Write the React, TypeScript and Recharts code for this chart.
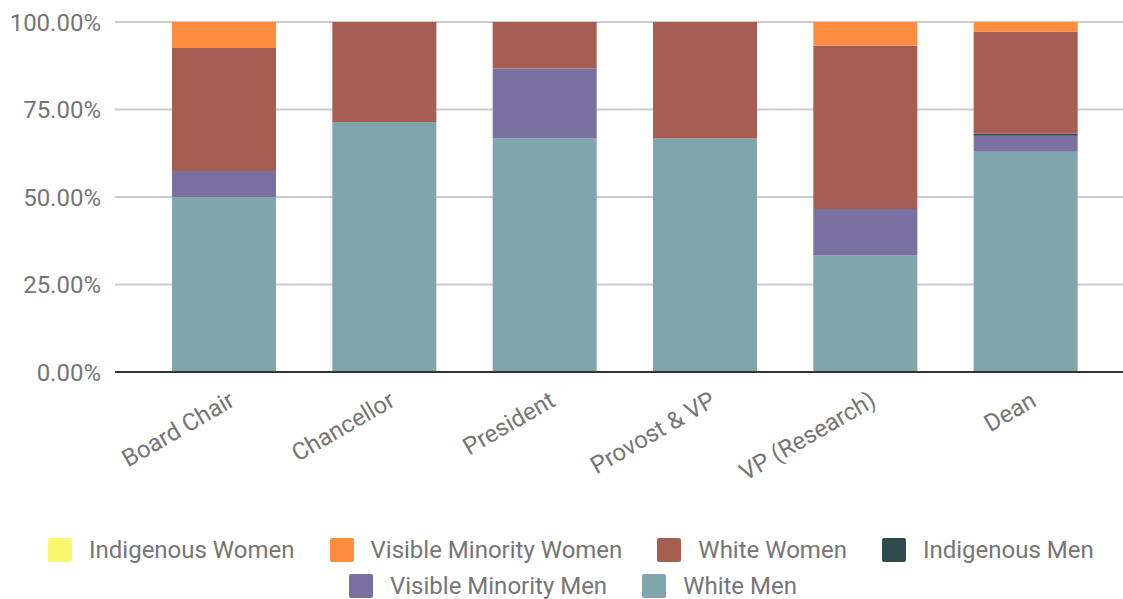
import { BarChart, Bar, XAxis, YAxis, CartesianGrid, Legend } from "recharts";

const roles = ["Board Chair", "Chancellor", "President", "Provost & VP", "VP (Research)", "Dean"];
const whiteMen = [50, 71.4, 66.7, 66.7, 33.3, 62.9];
const visibleMinorityMen = [7.4, 0, 20, 0, 13.3, 4.6];
const indigenousMen = [0, 0, 0, 0, 0, 0.6];
const whiteWomen = [35.2, 28.6, 13.3, 33.3, 46.7, 29.2];
const visibleMinorityWomen = [7.4, 0, 0, 0, 6.7, 2.7];
const indigenousWomen = [0, 0, 0, 0, 0, 0];
const yTicks = [0, 25, 50, 75, 100];

// stacked bottom -> top; legend shows them top -> bottom
const series = [
  { key: "whiteMen", name: "White Men", color: "#80A5AC" },
  { key: "visibleMinorityMen", name: "Visible Minority Men", color: "#7A71A1" },
  { key: "indigenousMen", name: "Indigenous Men", color: "#2F4A4D" },
  { key: "whiteWomen", name: "White Women", color: "#A65E52" },
  { key: "visibleMinorityWomen", name: "Visible Minority Women", color: "#FF8D3F" },
  { key: "indigenousWomen", name: "Indigenous Women", color: "#F8F76E" },
];
const legendOrder = series.map((s) => s.name).reverse();

const data = roles.map((role, i) => ({
  role,
  whiteMen: whiteMen[i],
  visibleMinorityMen: visibleMinorityMen[i],
  indigenousMen: indigenousMen[i],
  whiteWomen: whiteWomen[i],
  visibleMinorityWomen: visibleMinorityWomen[i],
  indigenousWomen: indigenousWomen[i],
}));

const FONT = "Roboto, 'Noto Sans', sans-serif";
const GREY = "#757575";

function RoleTick({ x, y, payload }: { x?: number; y?: number; payload?: { value: string } }) {
  const ax = (x ?? 0) + 12;
  const ay = (y ?? 0) + 25;
  return (
    <text x={ax} y={ay} transform={`rotate(-30, ${ax}, ${ay})`} textAnchor="end"
      fill={GREY} fontSize={24} fontFamily={FONT}>
      {payload?.value}
    </text>
  );
}

function LegendBox({ payload }: { payload?: { value: string; color: string }[] }) {
  const items = [...(payload ?? [])].sort((a, b) => legendOrder.indexOf(a.value) - legendOrder.indexOf(b.value));
  const rows = [items.slice(0, 4), items.slice(4)];
  const starts = [48, 349];
  return (
    <div style={{ height: 79, position: "relative", fontFamily: FONT }}>
      {rows.map((row, r) => (
        <div key={r} style={{ position: "absolute", left: starts[r], top: 11 + r * 36, height: 38, display: "flex", alignItems: "center", whiteSpace: "nowrap" }}>
          {row.map((it) => (
            <div key={it.value} style={{ display: "flex", alignItems: "center", marginRight: 35 }}>
              <span style={{ width: 24, height: 24, background: it.color, borderRadius: 2, display: "inline-block", marginRight: 17 }} />
              <span style={{ fontSize: 24, lineHeight: "28px", color: GREY }}>{it.value}</span>
            </div>
          ))}
        </div>
      ))}
    </div>
  );
}

export default function App() {
  return (
    <div style={{ position: "absolute", left: 0, top: 0, width: 1123, height: 599, background: "#fff" }}>
      <BarChart width={1123} height={599} data={data} margin={{ top: 22, right: 0, bottom: 0, left: 0 }}>
        <CartesianGrid vertical={false} stroke="#CCCCCC" strokeWidth={2} />
        <XAxis dataKey="role" height={148} padding={{ left: 29, right: 17 }} tickLine={false}
          axisLine={{ stroke: "#333333", strokeWidth: 2 }} tick={<RoleTick />} interval={0} />
        <YAxis width={115} domain={[0, 100]} ticks={yTicks} tickLine={false} axisLine={false}
          tickMargin={8} tickFormatter={(v: number) => `${v.toFixed(2)}%`}
          tick={{ fill: GREY, fontSize: 24, fontFamily: FONT }} />
        <Legend verticalAlign="bottom" content={<LegendBox />} />
        {series.map((s) => (
          <Bar key={s.key} dataKey={s.key} name={s.name} stackId="a" fill={s.color}
            barSize={104} isAnimationActive={false} />
        ))}
      </BarChart>
    </div>
  );
}
